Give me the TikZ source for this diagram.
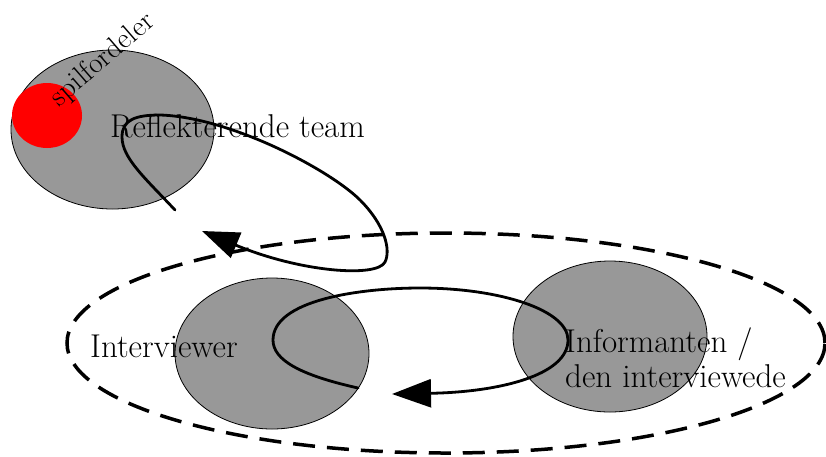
\documentclass[tikz,border=0pt]{standalone}
\usepackage{fontspec}
\usetikzlibrary{shapes.geometric,arrows.meta}
\definecolor{blobgray}{RGB}{152,152,152}

\begin{document}
\begin{tikzpicture}[x=1pt, y=-1pt,
    blob/.style={ellipse, draw=black, line width=0.8pt, fill=blobgray, inner sep=0pt},
    label_text/.style={inner sep=0pt, font=\fontsize{33}{35}\selectfont},
    loop_line/.style={line width=2.8pt, line cap=round}
  ]
  \useasboundingbox (0,0) rectangle (826,456);

  % dashed frame round the interview
  \node [ellipse, draw=black, line width=3.5pt, dash pattern=on 22pt off 12pt,
         minimum width=758pt, minimum height=220pt, inner sep=0pt] (setting) at (446,343) {};

  % the three groups
  \node [blob, minimum width=203pt, minimum height=159pt] (team) at (112.5,129.5) {};
  \node [ellipse, fill=red, minimum width=70pt, minimum height=65pt, inner sep=0pt] (spil) at (47,115.5) {};
  \node [blob, minimum width=194pt, minimum height=151pt] (interviewer) at (272,353.5) {};
  \node [blob, minimum width=194pt, minimum height=151pt] (informant) at (610,336.5) {};

  % labels
  \node [label_text, font=\fontsize{29}{32}\selectfont, rotate=41] (spil_label) at (103,60) {spilfordeler};
  \node [label_text, anchor=base west] (team_label) at (110,137) {Reflekterende team};
  \node [label_text, anchor=base west] (interviewer_label) at (90,357) {Interviewer};
  \node [label_text, anchor=west, align=left] (informant_label) at (565,358) {Informanten /\\den interviewede};

  % loop from the team down to the interview
  \coordinate (team_loop_start) at (175,210);
  \coordinate (team_loop_end) at (202,231);
  \draw [loop_line, -{Triangle[length=37pt, width=27pt]}] (team_loop_start)
    .. controls (145,178) and (122,158) .. (122,137)
    .. controls (122,120) and (135,115) .. (160,115)
    .. controls (230,117) and (330,170) .. (360,200)
    .. controls (385,225) and (391,250) .. (385,262)
    .. controls (377,278) and (300,272) .. (team_loop_end);

  % loop between interviewer and informant
  \coordinate (talk_loop_start) at (358,388);
  \coordinate (talk_loop_end) at (392,394);
  \draw [loop_line, -{Triangle[length=39pt, width=28pt]}] (talk_loop_start)
    .. controls (300,375) and (273,360) .. (273,340)
    .. controls (273,300) and (360,288) .. (420,288)
    .. controls (500,288) and (568,310) .. (568,340)
    .. controls (568,375) and (500,392) .. (talk_loop_end);
\end{tikzpicture}
\end{document}
